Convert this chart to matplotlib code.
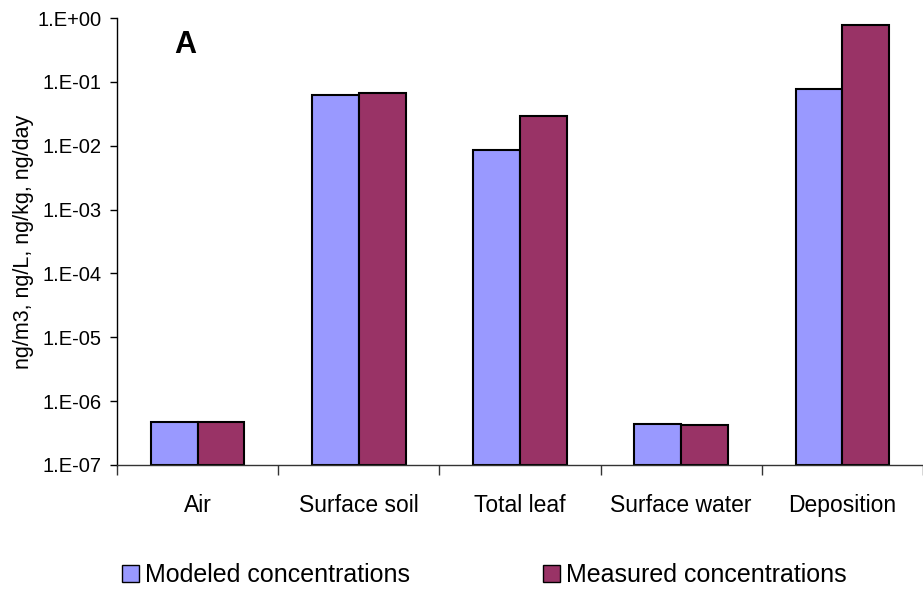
import matplotlib.pyplot as plt
import numpy as np
from matplotlib.ticker import FixedLocator, FuncFormatter
from matplotlib.patches import Patch

plt.rcParams['font.family'] = ['Liberation Sans', 'DejaVu Sans']

categories = ['Air', 'Surface soil', 'Total leaf', 'Surface water', 'Deposition']
modeled = [4.7e-7, 0.062, 0.0085, 4.4e-7, 0.076]
measured = [4.7e-7, 0.068, 0.029, 4.2e-7, 0.79]

col_mod = '#9999FF'
col_meas = '#993366'
base = 1e-7

fig = plt.figure(figsize=(9.23, 5.92), dpi=100)
ax = fig.add_axes([117 / 923, 1 - 465 / 592, 806 / 923, (465 - 18) / 592])

x = np.arange(len(categories))
w = 0.29
# bars start at the baseline of the log axis
ax.bar(x - w / 2, np.array(modeled) - base, w, bottom=base, color=col_mod,
       edgecolor='black', linewidth=1.5)
ax.bar(x + w / 2, np.array(measured) - base, w, bottom=base, color=col_meas,
       edgecolor='black', linewidth=1.5)

ax.set_yscale('log')
ax.set_ylim(1e-7, 1)
ax.set_xlim(-0.5, 4.46)
ax.yaxis.set_major_locator(FixedLocator([10.0 ** k for k in range(-7, 1)]))
ax.yaxis.set_minor_locator(FixedLocator([]))
ax.yaxis.set_major_formatter(FuncFormatter(lambda v, pos: '1.E%+03d' % int(round(np.log10(v)))))

ax.set_xticks(x)
ax.set_xticklabels(categories)
ax.set_xticks(np.arange(-0.5, 5, 1), minor=True)
ax.tick_params(axis='x', which='major', length=0, pad=21, labelsize=16.5)
ax.tick_params(axis='x', which='minor', length=7, width=1, direction='out', color='#333333')
ax.tick_params(axis='y', which='major', length=5, width=1, direction='out', labelsize=14.5, pad=6)

for s in ['top', 'right']:
    ax.spines[s].set_visible(False)
ax.spines['left'].set_linewidth(1)
ax.spines['bottom'].set_linewidth(1)
ax.spines['bottom'].set_color('#333333')

ax.set_ylabel('ng/m3, ng/L, ng/kg, ng/day', fontsize=15.5)
ax.yaxis.set_label_coords(-83 / 806, 0.5)
fig.text(185 / 923, 1 - 53 / 592, 'A', fontsize=22, fontweight='bold',
         ha='center', va='baseline')

handles = [Patch(facecolor=col_mod, edgecolor='black', label='Modeled concentrations'),
           Patch(facecolor=col_meas, edgecolor='black', label='Measured concentrations')]
fig.legend(handles=handles, loc='center left', bbox_to_anchor=(112 / 923, 1 - 575 / 592),
           ncol=2, frameon=False, fontsize=18, handlelength=0.68, handleheight=0.68,
           handletextpad=0.25, columnspacing=5.3, borderaxespad=0)

fig.savefig('out.png', dpi=100)
